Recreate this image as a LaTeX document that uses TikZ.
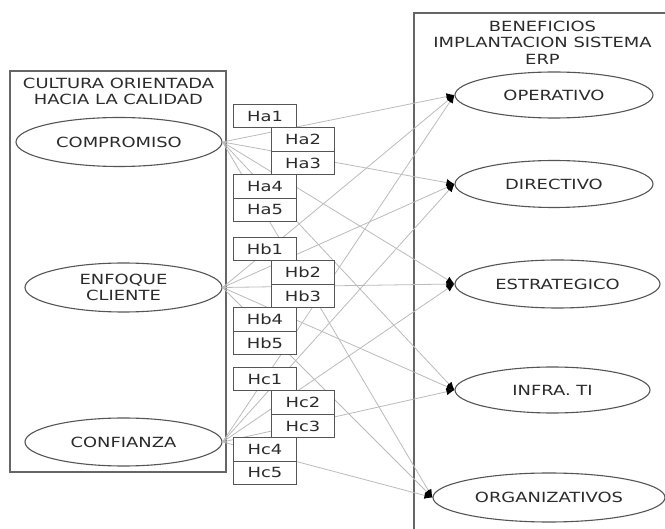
\documentclass[tikz,border=0pt]{standalone}
\usepackage{fontspec}
\setmainfont{DejaVu Sans}[FakeStretch=1.28]
\usetikzlibrary{shapes.geometric,arrows.meta}
\definecolor{txt}{HTML}{2B2B2B}
\definecolor{edgegray}{HTML}{555555}
\definecolor{framegray}{HTML}{666666}
\definecolor{linkgray}{HTML}{BBBBBB}

\begin{document}
\begin{tikzpicture}[x=1pt,y=-1pt,
  every node/.style={text=txt, font=\fontsize{14}{16.6}\selectfont},
  factor/.style={ellipse, draw=edgegray, line width=1.1pt, fill=white, inner sep=0pt, align=center},
  hyp/.style={rectangle, draw=edgegray, line width=1pt, fill=white,
    minimum width=63pt, minimum height=23.4pt, inner sep=0pt, anchor=north west},
  container/.style={draw=framegray, line width=1.8pt},
  link/.style={draw=linkgray, line width=0.8pt, -{Latex[length=8pt,width=7pt,color=black]}},
  heading/.style={align=center, inner sep=0pt}
]
\useasboundingbox (0,0) rectangle (665,529);
\fill[white] (0,0) rectangle (665,529);

\begin{scope}
\clip (0,0) rectangle (665,529);

% containers
\draw[container] (10,71) rectangle (226,472);
\draw[container] (414,13) rectangle (700,570);

\node[heading] (lefttitle) at (118.5,91.3) {CULTURA ORIENTADA\\HACIA LA CALIDAD};
\node[heading] (righttitle) at (542.5,42.5) {BENEFICIOS\\IMPLANTACION SISTEMA\\ERP};

% cultural factors
\node[factor, minimum width=206pt, minimum height=49pt] (comp) at (119,142) {COMPROMISO};
\node[factor, minimum width=197pt, minimum height=49pt] (enf) at (123.5,287.5) {ENFOQUE\\CLIENTE};
\node[factor, minimum width=197pt, minimum height=48pt] (conf) at (123.5,442) {CONFIANZA};

% ERP benefits
\node[factor, minimum width=198pt, minimum height=46pt] (oper) at (554,95) {OPERATIVO};
\node[factor, minimum width=198pt, minimum height=47pt] (dir) at (554,184) {DIRECTIVO};
\node[factor, minimum width=205pt, minimum height=48pt] (estr) at (557.5,284) {ESTRATEGICO};
\node[factor, minimum width=195pt, minimum height=46pt] (infra) at (552.5,390) {INFRA. TI};
\node[factor, minimum width=232pt, minimum height=49pt] (org) at (549,497.5) {ORGANIZATIVOS};

% hypothesised relations
\foreach \s in {comp,enf,conf}
  \foreach \t in {oper,dir,estr,infra,org}
    \draw[link] (\s.east) -- (\t.west);

% hypothesis labels
\node[hyp] (ha1) at (233,104)   {Ha1};
\node[hyp] (ha2) at (271,127.4) {Ha2};
\node[hyp] (ha3) at (271,150.8) {Ha3};
\node[hyp] (ha4) at (233,174.2) {Ha4};
\node[hyp] (ha5) at (233,197.6) {Ha5};

\node[hyp] (hb1) at (233,237)   {Hb1};
\node[hyp] (hb2) at (271,260.4) {Hb2};
\node[hyp] (hb3) at (271,283.8) {Hb3};
\node[hyp] (hb4) at (233,307.2) {Hb4};
\node[hyp] (hb5) at (233,330.6) {Hb5};

\node[hyp] (hc1) at (233,367)   {Hc1};
\node[hyp] (hc2) at (271,390.4) {Hc2};
\node[hyp] (hc3) at (271,413.8) {Hc3};
\node[hyp] (hc4) at (233,437.2) {Hc4};
\node[hyp] (hc5) at (233,460.6) {Hc5};
\end{scope}
\end{tikzpicture}
\end{document}
